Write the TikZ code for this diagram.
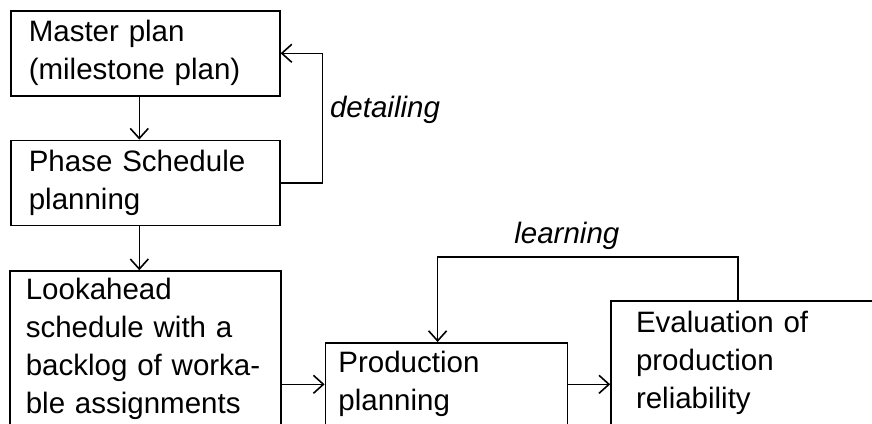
\documentclass[tikz,border=0pt]{standalone}
\usepackage{fontspec}
\setmainfont{Liberation Sans}
\usetikzlibrary{positioning}
\usetikzlibrary{arrows.meta}
\tikzset{node distance=21.5pt,
    >={Straight Barb[length=5pt,width=9pt]},
    planbox/.style={
        draw,
        line width=0.8pt,
        align=left,
        inner xsep=9pt,
        font=\fontsize{14.75}{19}\selectfont},
    note/.style={
        font=\fontsize{14.75}{19}\selectfont\itshape},
    every edge/.style={
        draw,
        ->,
        line width=0.8pt}}

\begin{document}
\begin{tikzpicture}
        \useasboundingbox (0,0) rectangle (436pt,-211.5pt);
        \clip (0,0) rectangle (436pt,-211.5pt);

        \node[planbox,anchor=north west,text width=116.5pt,minimum height=42.5pt] (master) at (5pt,-5pt) {Master plan\\(milestone plan)};
        \node[planbox,below=of master,text width=116.5pt,minimum height=42.5pt] (phase) {Phase Schedule\\planning};
        \node[planbox,below=22pt of phase,inner xsep=8pt,text width=119.5pt,minimum height=76.5pt] (look) {Lookahead\\schedule with a\\backlog of worka-\\ble assignments};
        \node[planbox,right=of look.south east,anchor=south west,inner xsep=6.5pt,text width=108pt,minimum height=41.5pt] (prod) {Production\\planning};
        \node[planbox,right=21pt of prod.south east,anchor=south west,inner xsep=12.5pt,text width=111pt,minimum height=62.5pt] (eval) {Evaluation of\\production\\reliability};

        \draw ([xshift=-3pt]master.south) edge ([xshift=-3pt]phase.north);
        \draw ([xshift=-3pt]phase.south) edge ([xshift=-3pt]look.north);
        \draw (look.east |- prod.west) edge (prod.west);
        \draw (prod.east) edge (prod.east -| eval.west);

        \draw[->,line width=0.8pt] (phase.east) -- ++(21pt,0) |- node[note,pos=0.28,right] {detailing} (master.east);
        \draw[->,line width=0.8pt] ([xshift=64pt]eval.north west) -- ++(0,21.5pt) -| node[note,pos=0.285,above] {learning} ([xshift=56.5pt]prod.north west);
    \end{tikzpicture}
\end{document}
